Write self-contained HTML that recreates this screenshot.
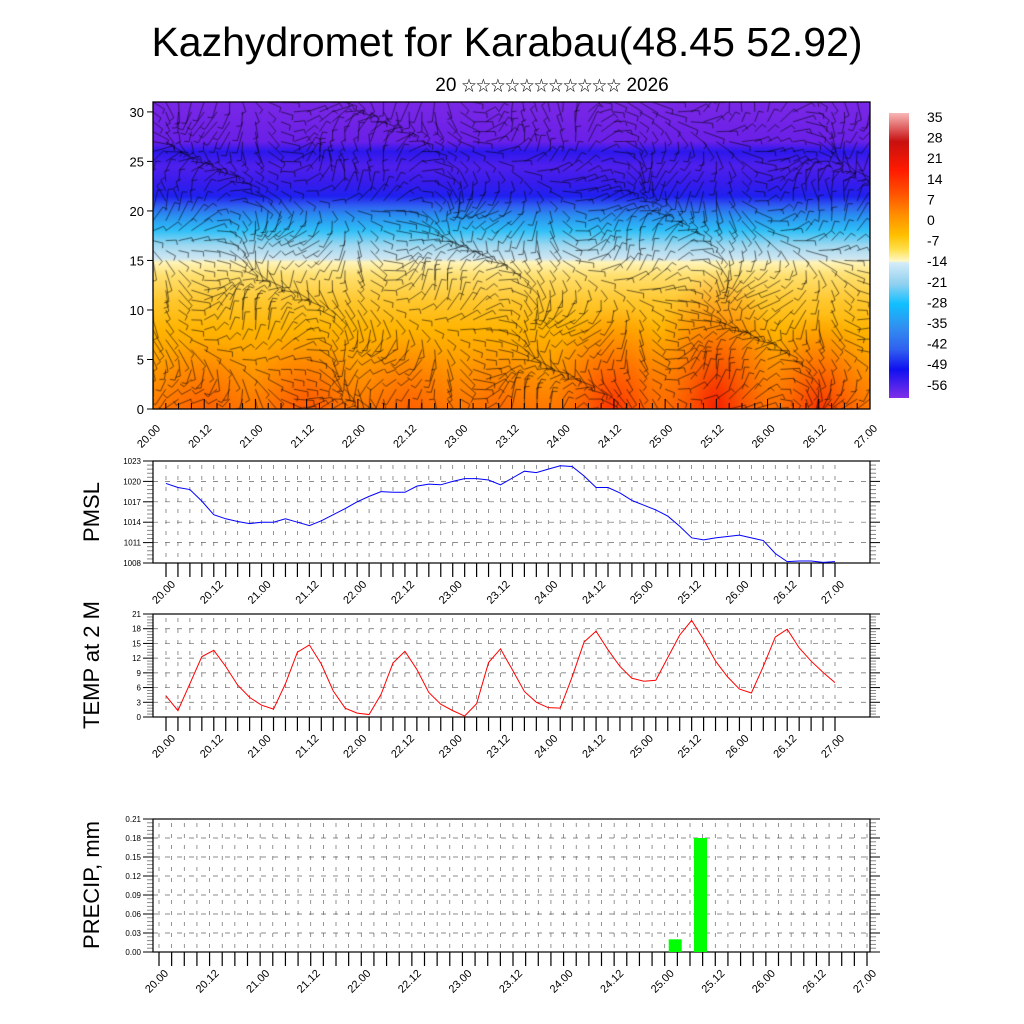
<!DOCTYPE html>
<html><head><meta charset="utf-8">
<style>
html,body{margin:0;padding:0;background:#fff;width:1024px;height:1024px;overflow:hidden}
#wrap{position:relative;width:1024px;height:1024px}
#field{position:absolute;left:153px;top:102px}
#svg{position:absolute;left:0;top:0}
text{font-family:"Liberation Sans","Noto Sans CJK SC",sans-serif}
</style></head>
<body>
<div id="wrap">
<canvas id="field" width="717" height="307"></canvas>
<svg id="svg" width="1024" height="1024" xmlns="http://www.w3.org/2000/svg">
<text x="507" y="56" font-size="41" text-anchor="middle">Kazhydromet for Karabau(48.45 52.92)</text>
<text x="552" y="91" font-size="19" text-anchor="middle">20 <tspan font-size="14.5">☆☆☆☆☆☆☆☆☆☆☆</tspan> 2026</text>
<g id="g"></g>
</svg>
</div>
<script>
const timeLabels=["20.00","20.12","21.00","21.12","22.00","22.12","23.00","23.12","24.00","24.12","25.00","25.12","26.00","26.12","27.00"];
const pmsl=[1019.7,1019.1,1018.8,1017.1,1015.1,1014.5,1014.1,1013.8,1014.0,1014.0,1014.5,1014.0,1013.5,1014.2,1015.1,1016.0,1017.0,1017.8,1018.5,1018.4,1018.4,1019.3,1019.6,1019.5,1020.0,1020.4,1020.4,1020.2,1019.5,1020.5,1021.5,1021.3,1021.8,1022.3,1022.2,1020.8,1019.1,1019.1,1018.3,1017.2,1016.5,1015.8,1014.9,1013.4,1011.7,1011.4,1011.7,1011.9,1012.1,1011.7,1011.3,1009.4,1008.2,1008.3,1008.3,1008.1,1008.2];
const temp2m=[4.3,1.3,6.8,12.3,13.6,10.3,6.5,4.0,2.4,1.6,6.8,13.2,14.7,10.8,5.3,1.8,0.8,0.5,4.6,11.0,13.4,9.7,5.0,2.6,1.3,0.2,2.7,11.1,13.9,9.6,5.2,3.0,1.9,1.8,8.2,15.3,17.5,13.7,10.3,7.9,7.3,7.5,12.1,16.7,19.7,15.8,11.4,8.2,5.7,4.9,10.3,16.3,17.9,14.1,11.4,9.1,7.0];
const precipIdx=[40,42];
const precipVal=[0.02,0.18];
const pmslTicks=[1008,1011,1014,1017,1020,1023];
const tempTicks=[0,3,6,9,12,15,18,21];
const precipTicks=["0.00","0.03","0.06","0.09","0.12","0.15","0.18","0.21"];
const heightTicks=[0,5,10,15,20,25,30];
const cbarLabels=["35","28","21","14","7","0","-7","-14","-21","-28","-35","-42","-49","-56"];

const NS="http://www.w3.org/2000/svg";
const G=document.getElementById('g');
function mk(t,a,p){const e=document.createElementNS(NS,t);for(const k in a)e.setAttribute(k,a[k]);(p||G).appendChild(e);return e;}

(function(){
const c=document.getElementById('field'),ctx=c.getContext('2d');const W=717,H=307;
const sy=v=>H-(v/31)*H;
let gr=ctx.createLinearGradient(0,H,0,0);
const stops=[[0,"#ff7a00"],[2,"#ff8c00"],[5,"#ffa000"],[8,"#ffb400"],[11,"#ffc830"],[13.5,"#ffe070"],[14.8,"#fff4b8"],[15.2,"#cfe6f2"],[16.5,"#a0d8f0"],[18,"#30c0f8"],[19.5,"#2a90f0"],[20.5,"#3060f0"],[21.5,"#2020f0"],[23,"#3a1cec"],[24.5,"#5020ec"],[26,"#2c18ee"],[27,"#6a20e8"],[31,"#7a28e6"]];
stops.forEach(s=>gr.addColorStop(s[0]/31,s[1]));
ctx.fillStyle=gr;ctx.fillRect(0,0,W,H);
const dx=W/56;
function spot(i,r,col,ry){const x=i*dx,y=H;const g2=ctx.createRadialGradient(x,y,0,x,y,r);g2.addColorStop(0,col);g2.addColorStop(1,"rgba(255,100,0,0)");ctx.save();ctx.translate(x,y);ctx.scale(1,ry);ctx.translate(-x,-y);ctx.fillStyle=g2;ctx.fillRect(x-r,y-r,2*r,2*r);ctx.restore();}
spot(36,70,"rgba(255,40,0,0.85)",1.5);spot(44,70,"rgba(245,20,0,0.9)",2.0);spot(52,60,"rgba(250,40,0,0.85)",1.6);
spot(12,60,"rgba(255,70,0,0.7)",1.3);spot(4,60,"rgba(255,80,0,0.6)",1.2);spot(20,60,"rgba(255,80,0,0.6)",1.3);spot(27,55,"rgba(255,90,0,0.5)",1.2);
ctx.strokeStyle="rgba(0,0,0,0.7)";ctx.lineWidth=0.8;
for(let i=0;i<=56;i++){for(let j=0;j<=31;j++){
 const x=i*dx,y=sy(j);
 const a=Math.sin(i*0.37+j*0.21)*1.3+Math.cos(i*0.11-j*0.45)*0.9+(j>20?0.1:0.6);
 const L=16+6*Math.sin(i*0.7+j);
 const x2=x+Math.cos(a)*L,y2=y+Math.sin(a)*L;
 ctx.beginPath();ctx.moveTo(x,y);ctx.lineTo(x2,y2);
 const b=a+1.4;ctx.moveTo(x2,y2);ctx.lineTo(x2+Math.cos(b)*5,y2+Math.sin(b)*5);ctx.stroke();
}}
})();

(function(){
const L=153,R=870,T=102,B=409;
mk('rect',{x:L,y:T,width:R-L,height:B-T,fill:'none',stroke:'#000','stroke-width':1.3});
const yv=v=>B-(v/31)*(B-T);
heightTicks.forEach(v=>{
 const y=yv(v);
 const t=mk('text',{x:L-9,y:y+5,'font-size':13,'text-anchor':'end'});t.textContent=v;
 
 
 mk('line',{x1:L-6,x2:L,y1:y,y2:y,stroke:'#000'});
});
const xs=i=>L+i*(R-L)/56;
for(let i=0;i<=56;i++){mk('line',{x1:xs(i),x2:xs(i),y1:B,y2:B-(i%4==0?10:6),stroke:'#000'});}
timeLabels.forEach((s,k)=>{const x=xs(k*4);const t=mk('text',{'font-size':11,'text-anchor':'end',transform:`translate(${x+8},${B+20}) rotate(-45)`});t.textContent=s;
 
 });
const cb=mk('defs',{});
const lg=mk('linearGradient',{id:'cbg',x1:0,y1:0,x2:0,y2:1},cb);
[[0,"#f8b8b8"],[0.1,"#c81010"],[0.2,"#ff1a00"],[0.28,"#ff5000"],[0.36,"#ff9000"],[0.43,"#ffc000"],[0.48,"#ffe050"],[0.52,"#fff8c8"],[0.525,"#d4ecf8"],[0.6,"#90d0f0"],[0.67,"#10c0ff"],[0.75,"#3090f0"],[0.83,"#3060f0"],[0.9,"#1010f0"],[1,"#8030e8"]].forEach(s=>mk('stop',{offset:s[0],'stop-color':s[1]},lg));
const r=mk('rect',{x:889,y:113,width:20,height:285,fill:'url(#cbg)'});


cbarLabels.forEach((s,k)=>{const t=mk('text',{x:927,y:122+k*20.6,'font-size':14});t.textContent=s;
 
 });
})();

function panel(o){
 const {L,R,T,B,x0,x1,ymin,ymax,ticks,labels,title,titleY,name}=o;
 const n=56;const xs=i=>x0+i*(x1-x0)/n;const ys=v=>B-(v-ymin)/(ymax-ymin)*(B-T);
 const g=mk('g',{});
 for(let i=0;i<=n;i++){mk('line',{x1:xs(i),x2:xs(i),y1:T+4,y2:B-2,stroke:'#666','stroke-width':0.7,'stroke-dasharray':'4,7'},g);}
 const nt=ticks.length;
 for(let k=0;k<nt;k++){const y=ys(ticks[k]);
  if(k>0&&k<nt-1)mk('line',{x1:L,x2:R,y1:y,y2:y,stroke:'#666','stroke-width':0.7,'stroke-dasharray':'5,7'},g);
  mk('line',{x1:L-10,x2:L,y1:y,y2:y,stroke:'#000'},g);mk('line',{x1:R,x2:R+10,y1:y,y2:y,stroke:'#000'},g);
  const t=mk('text',{x:L-12,y:y+3,'font-size':8,'text-anchor':'end'},g);t.textContent=labels[k];
  
  
  if(k<nt-1){for(let m=1;m<5;m++){const yy=y-(m/5)*(ys(ticks[k])-ys(ticks[k+1]));mk('line',{x1:L-6,x2:L,y1:yy,y2:yy,stroke:'#888'},g);mk('line',{x1:R,x2:R+6,y1:yy,y2:yy,stroke:'#888'},g);}}
 }
 mk('rect',{x:L,y:T,width:R-L,height:B-T,fill:'none',stroke:'#000','stroke-width':1.2},g);
 for(let i=0;i<=n;i++){mk('line',{x1:xs(i),x2:xs(i),y1:B,y2:B+14,stroke:'#000','stroke-width':1.2},g);}
 timeLabels.forEach((s,k)=>{const x=xs(k*4);const t=mk('text',{'font-size':11,'text-anchor':'end',transform:`translate(${x+10},${B+22}) rotate(-45)`},g);t.textContent=s;
  
  });
 const tt=mk('text',{'font-size':22,'text-anchor':'middle',transform:`translate(99,${titleY}) rotate(-90)`},g);tt.textContent=title;
 
 
 return {xs,ys,g};
}
(function(){
 const p=panel({L:153,R:870,T:461,B:563,x0:166,x1:835,ymin:1008,ymax:1023,ticks:pmslTicks,labels:pmslTicks.map(String),title:'PMSL',titleY:512,name:'pmsl'});
 const pl=mk('polyline',{points:pmsl.map((v,i)=>p.xs(i)+','+p.ys(v)).join(' '),fill:'none',stroke:'#0000ff','stroke-width':1},p.g);
 
 
})();
(function(){
 const p=panel({L:153,R:870,T:614,B:717,x0:166,x1:835,ymin:0,ymax:21,ticks:tempTicks,labels:tempTicks.map(String),title:'TEMP at 2 M',titleY:665,name:'temp'});
 const pl=mk('polyline',{points:temp2m.map((v,i)=>p.xs(i)+','+p.ys(v)).join(' '),fill:'none',stroke:'#ff0000','stroke-width':1},p.g);
 
 
})();
(function(){
 const p=panel({L:153,R:870,T:819,B:952,x0:159,x1:867,ymin:0,ymax:0.21,ticks:precipTicks.map(Number),labels:precipTicks,title:'PRECIP, mm',titleY:885,name:'precip'});
 precipIdx.forEach((ix,k)=>{const x=p.xs(ix)+4;const y=p.ys(precipVal[k]);
  const b=mk('rect',{x:x,y:y,width:13,height:p.ys(0)-y,fill:'#00ff00'},p.g);
  
  });
})();
</script>
</body></html>
